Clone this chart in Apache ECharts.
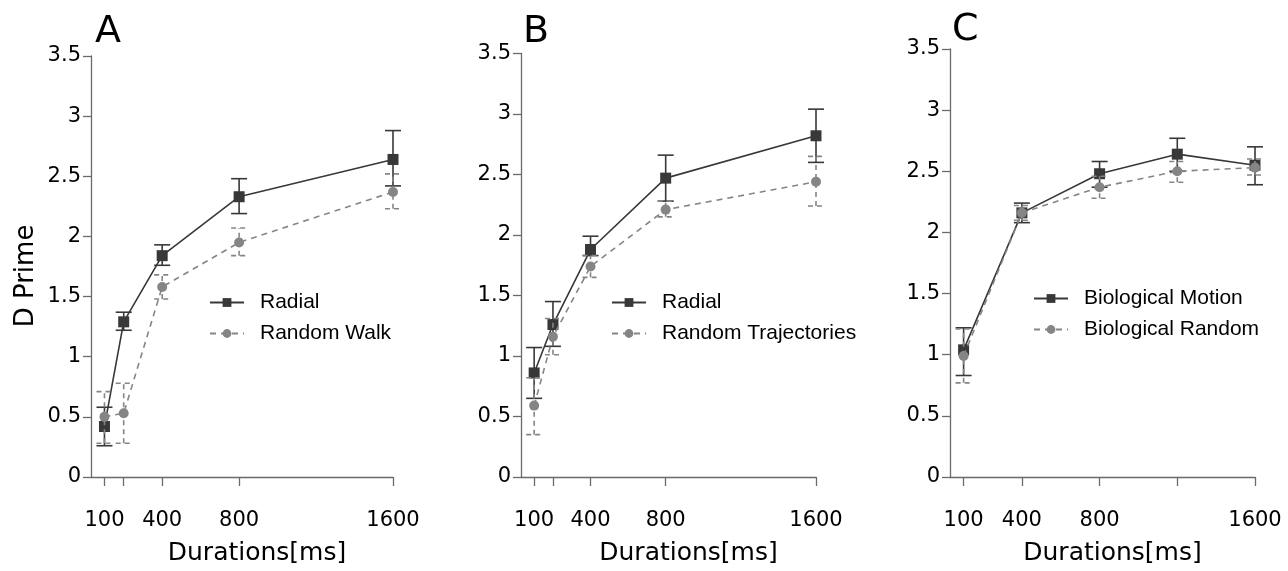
<!DOCTYPE html>
<html>
<head>
<meta charset="utf-8">
<script src="https://cdn.jsdelivr.net/npm/echarts@6/dist/echarts.min.js"></script>
<style>
html,body{margin:0;padding:0;background:#fff;}
#chart{width:1288px;height:571px;}
</style>
</head>
<body>
<div id="chart"></div>
<script>
// ---------- data ----------
const panelLetters = ['A', 'B', 'C'];
const xMin = 30, xMax = 1600;
const yMin = 0, yMax = 3.5, yStep = 0.5;

// Panel A
const durA = [100, 200, 400, 800, 1600];
const tickA = [100, 200, 400, 800, 1600];
const labelA = [100, 400, 800, 1600];
const nameA1 = 'Radial';
const nameA2 = 'Random Walk';
const radialA = [0.42, 1.29, 1.84, 2.33, 2.64];
const radialALo = [0.26, 1.22, 1.76, 2.19, 2.42];
const radialAHi = [0.58, 1.37, 1.93, 2.48, 2.88];
const walkA = [0.50, 0.53, 1.58, 1.95, 2.37];
const walkALo = [0.28, 0.28, 1.48, 1.84, 2.23];
const walkAHi = [0.71, 0.78, 1.68, 2.07, 2.52];

// Panel B
const durB = [100, 200, 400, 800, 1600];
const tickB = [100, 200, 400, 800, 1600];
const labelB = [100, 400, 800, 1600];
const nameB1 = 'Radial';
const nameB2 = 'Random Trajectories';
const radialB = [0.86, 1.26, 1.88, 2.47, 2.82];
const radialBLo = [0.65, 1.08, 1.83, 2.28, 2.60];
const radialBHi = [1.07, 1.45, 1.99, 2.66, 3.04];
const trajB = [0.59, 1.16, 1.74, 2.21, 2.44];
const trajBLo = [0.35, 1.01, 1.65, 2.15, 2.24];
const trajBHi = [0.82, 1.31, 1.83, 2.28, 2.65];

// Panel C
const durC = [100, 400, 800, 1200, 1600];
const tickC = [100, 400, 800, 1200, 1600];
const labelC = [100, 400, 800, 1600];
const nameC1 = 'Biological Motion';
const nameC2 = 'Biological Random';
const motionC = [1.04, 2.16, 2.48, 2.64, 2.55];
const motionCLo = [0.83, 2.08, 2.37, 2.50, 2.39];
const motionCHi = [1.22, 2.24, 2.58, 2.77, 2.70];
const randC = [0.99, 2.16, 2.37, 2.50, 2.53];
const randCLo = [0.77, 2.10, 2.28, 2.41, 2.47];
const randCHi = [1.21, 2.22, 2.46, 2.58, 2.60];

// ---------- styles ----------
const DARK = '#383838';
const GRAY = '#858585';
const AXIS = '#6a6a6a';
const TXT = '#000000';
const FONT = 'DejaVu Sans';

const panels = [
  {grid:{left:91, top:56, width:302, height:424}, dur:durA, ticks:tickA, labels:labelA,
   s1:{name:nameA1, v:radialA, lo:radialALo, hi:radialAHi},
   s2:{name:nameA2, v:walkA, lo:walkALo, hi:walkAHi},
   legend:{left:209, top:292}, title:{left:95, top:13}, nameShift:15, yName:'D Prime'},
  {grid:{left:521, top:53.5, width:295, height:423.5}, dur:durB, ticks:tickB, labels:labelB,
   s1:{name:nameB1, v:radialB, lo:radialBLo, hi:radialBHi},
   s2:{name:nameB2, v:trajB, lo:trajBLo, hi:trajBHi},
   legend:{left:611, top:292}, title:{left:523, top:13}, nameShift:20, yName:''},
  {grid:{left:950, top:49, width:305, height:428}, dur:durC, ticks:tickC, labels:labelC,
   s1:{name:nameC1, v:motionC, lo:motionCLo, hi:motionCHi},
   s2:{name:nameC2, v:randC, lo:randCLo, hi:randCHi},
   legend:{left:1033, top:288}, title:{left:952, top:11}, nameShift:10, yName:''}
];

function errSeries(idx, s, color, dashed, z) {
  return {
    type: 'custom',
    xAxisIndex: idx, yAxisIndex: idx,
    z: z, silent: true,
    encode: {x: 0, y: [1, 2]},
    data: s.dur.map((d, i) => [d, s.lo[i], s.hi[i]]),
    renderItem: function (params, api) {
      const x = api.value(0);
      const lo = api.coord([x, api.value(1)]);
      const hi = api.coord([x, api.value(2)]);
      const hw = 8;
      const style = {stroke: color, lineWidth: 1.6, lineDash: dashed ? [5, 4] : null, fill: null};
      return {
        type: 'group',
        children: [
          {type: 'line', shape: {x1: lo[0], y1: lo[1], x2: hi[0], y2: hi[1]}, style: style},
          {type: 'line', shape: {x1: lo[0] - hw, y1: lo[1], x2: lo[0] + hw, y2: lo[1]}, style: style},
          {type: 'line', shape: {x1: hi[0] - hw, y1: hi[1], x2: hi[0] + hw, y2: hi[1]}, style: style}
        ]
      };
    }
  };
}

const option = {
  backgroundColor: '#ffffff',
  animation: false,
  title: [], grid: [], xAxis: [], yAxis: [], legend: [], series: []
};

panels.forEach((p, i) => {
  option.title.push({
    text: panelLetters[i], left: p.title.left, top: p.title.top, padding: 0,
    textStyle: {fontFamily: FONT, fontSize: 38, fontWeight: 'normal', color: TXT}
  });
  option.grid.push(Object.assign({containLabel: false}, p.grid));
  option.xAxis.push({
    type: 'value', gridIndex: i, min: xMin, max: xMax, offset: 17,
    name: 'Durations[ms]', nameLocation: 'middle', nameGap: 47,
    nameTextStyle: {fontFamily: FONT, fontSize: 25, color: TXT, padding: [0, 0, 0, 2 * p.nameShift]},
    axisLine: {show: true, lineStyle: {color: AXIS, width: 1.3}},
    axisTick: {show: true, inside: false, length: 9, customValues: p.ticks, lineStyle: {color: AXIS, width: 1.3}},
    axisLabel: {show: true, margin: 16, customValues: p.labels, fontFamily: FONT, fontSize: 21, color: TXT,
                formatter: function (v) { return String(v); }},
    splitLine: {show: false}
  });
  option.yAxis.push({
    type: 'value', gridIndex: i, min: yMin, max: yMax, interval: yStep,
    name: p.yName, nameLocation: 'middle', nameGap: 52,
    nameTextStyle: {fontFamily: FONT, fontSize: 26, color: TXT, padding: [0, 19, 0, 0]},
    axisLine: {show: true, lineStyle: {color: AXIS, width: 1.3}},
    axisTick: {show: true, inside: false, length: 8, lineStyle: {color: AXIS, width: 1.3}},
    axisLabel: {show: true, margin: 10, fontFamily: FONT, fontSize: 21, color: TXT,
                formatter: function (v) { return String(v); }},
    splitLine: {show: false}
  });
  option.legend.push({
    orient: 'vertical', left: p.legend.left, top: p.legend.top,
    itemWidth: 34, itemHeight: 11, itemGap: 10, padding: 0,
    data: [p.s1.name, p.s2.name],
    selectedMode: false,
    textStyle: {fontFamily: 'Liberation Sans', fontSize: 21, lineHeight: 21, color: TXT, padding: [0, 0, 0, 11]}
  });
  const s1 = Object.assign({dur: p.dur}, p.s1);
  const s2 = Object.assign({dur: p.dur}, p.s2);
  option.series.push(errSeries(i, s1, DARK, false, 2));
  option.series.push({
    type: 'line', name: p.s1.name, xAxisIndex: i, yAxisIndex: i, z: 3,
    data: p.dur.map((d, k) => [d, p.s1.v[k]]),
    symbol: 'rect', symbolSize: 11,
    lineStyle: {color: DARK, width: 1.6},
    itemStyle: {color: DARK, borderWidth: 0}
  });
  option.series.push(errSeries(i, s2, GRAY, true, 4));
  option.series.push({
    type: 'line', name: p.s2.name, xAxisIndex: i, yAxisIndex: i, z: 5,
    data: p.dur.map((d, k) => [d, p.s2.v[k]]),
    symbol: 'circle', symbolSize: 10,
    lineStyle: {color: GRAY, width: 1.6, type: [6, 5]},
    itemStyle: {color: GRAY, borderWidth: 0}
  });
});

const chart = echarts.init(document.getElementById('chart'), null, {renderer: 'canvas'});
chart.setOption(option);
</script>
</body>
</html>
